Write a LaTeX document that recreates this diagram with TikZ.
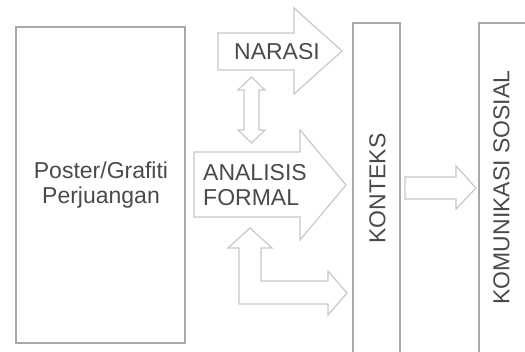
\documentclass[tikz,border=0pt]{standalone}
\usepackage{fontspec}
\setmainfont{Liberation Sans}
\begin{document}
\begin{tikzpicture}[x=1pt,y=-1pt,
  box/.style={draw=boxgray,line width=1.3pt},
  blockarrow/.style={draw=arrowgray,line width=1.2pt,line join=miter},
  lbl/.style={text=textgray,font=\fontsize{23}{25}\selectfont,inner sep=0pt}]
\definecolor{boxgray}{HTML}{A8A8A8}
\definecolor{arrowgray}{HTML}{C8C8C8}
\definecolor{textgray}{HTML}{4A4A4A}
\useasboundingbox (0,0) rectangle (525,351);
\clip (0,0) rectangle (525,351);
% boxes
\draw[box] (16,27) rectangle (185,343);
\draw[box] (353,23) rectangle (400,360);
\draw[box] (479,23) rectangle (540,360);
% texts
\node[lbl,align=center] (poster) at (101,185) {Poster/Grafiti\\Perjuangan};
\node[lbl] (narasi) at (277,51.5) {NARASI};
\node[lbl,align=left,anchor=west] (analisis) at (203,185) {ANALISIS\\FORMAL};
\node[lbl,rotate=90] (konteks) at (377.5,188.5) {KONTEKS};
\node[lbl,rotate=90] (komsos) at (501.5,187.5) {KOMUNIKASI SOSIAL};
% block arrows
\draw[blockarrow] (218,33) -- (294,33) -- (294,8) -- (342,51) -- (294,94) -- (294,70) -- (218,70) -- cycle;
\draw[blockarrow] (251.5,77) -- (265,90) -- (259,90) -- (259,130) -- (265,130) -- (251.5,143) -- (238,130) -- (244,130) -- (244,90) -- (238,90) -- cycle;
\draw[blockarrow] (194,152) -- (300,152) -- (300,130) -- (346,185) -- (300,240) -- (300,217) -- (194,217) -- cycle;
\draw[blockarrow] (250,228) -- (272,248) -- (261,248) -- (261,281) -- (328,281) -- (328,271) -- (347,293) -- (328,315) -- (328,304) -- (239,304) -- (239,248) -- (228,248) -- cycle;
\draw[blockarrow] (405,177) -- (456,177) -- (456,166) -- (476,188) -- (456,209) -- (456,199) -- (405,199) -- cycle;
\end{tikzpicture}
\end{document}
